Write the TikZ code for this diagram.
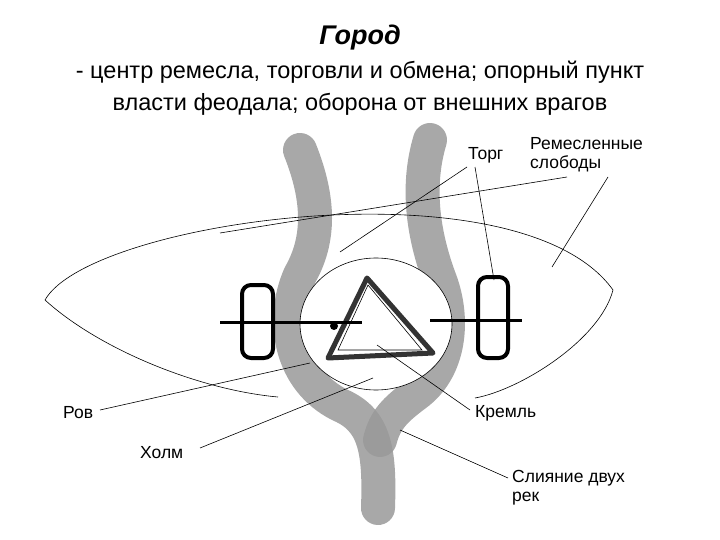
\documentclass[tikz,border=0pt]{standalone}
\usepackage{fontspec}
\setmainfont{Liberation Sans}
\begin{document}
\begin{tikzpicture}[x=1pt,y=-1pt,
  thin line/.style={draw=black,line width=0.6pt},
  river/.style={draw=black!40,line width=34pt,line cap=round,line join=round,opacity=0.85},
  lbl/.style={font=\fontsize{17.5}{19}\selectfont,inner sep=0pt,anchor=west,align=left},
  wall/.style={draw=black,line width=4pt,rounded corners=9pt}]
\useasboundingbox (0,0) rectangle (720,540);
\node[font=\fontsize{27}{30}\selectfont\bfseries\itshape] (title) at (360,38) {Город};
\node[font=\fontsize{23.5}{32}\selectfont,align=center] (sub) at (360,88) {- центр ремесла, торговли и обмена; опорный пункт\\власти феодала; оборона от внешних врагов};
% rivers
\draw[river] (300,150) .. controls (320,200) and (320,240) .. (300,275) .. controls (280,320) and (290,380) .. (340,405) .. controls (375,420) and (380,450) .. (378,508);
\draw[river] (430,140) .. controls (415,190) and (425,240) .. (440,280) .. controls (455,320) and (450,370) .. (415,395) .. controls (395,410) and (385,420) .. (380,440);
% outer lens
\draw[thin line] (45,300) .. controls (90,220) and (520,160) .. (613,290) .. controls (600,340) and (520,390) .. (475,398);
\draw[thin line] (45,300) .. controls (100,350) and (200,390) .. (278,397);
% kremlin circle
\draw[thin line,fill=white] (376,324) ellipse [x radius=76,y radius=66];
% triangle
\draw[draw=black!80,line width=5pt,line join=round] (367,278) -- (433,353) -- (328,358) -- cycle;
\draw[thin line] (368,285) -- (422,350) -- (338,350) -- cycle;
\fill (334,326) circle (4);
% walls and roads
\draw[wall] (242,285) rectangle (273,358);
\draw[wall] (478,277) rectangle (508,358);
\draw[line width=3pt] (220,322) -- (362,322);
\draw[line width=3pt] (430,320) -- (522,320);
% labels
\node[lbl] (torg) at (468,155) {Торг};
\node[lbl] (slob) at (530,155) {Ремесленные\\слободы};
\node[lbl] (krem) at (475,413) {Кремль};
\node[lbl] (sliy) at (512,488) {Слияние двух\\рек};
\node[lbl] (rov) at (63,413) {Ров};
\node[lbl] (holm) at (140,453) {Холм};
\coordinate (t1) at (340,252); \coordinate (t2) at (494,280);
\coordinate (s1) at (220,233); \coordinate (s2) at (552,267);
\coordinate (k1) at (377,345); \coordinate (c1) at (400,430);
\coordinate (r1) at (310,363); \coordinate (h1) at (373,378);
\coordinate (ta) at (467,167); \coordinate (tb) at (475,167);
\coordinate (sa) at (567,177); \coordinate (sb) at (608,177);
\coordinate (ka) at (470,410); \coordinate (ca) at (508,478);
\coordinate (ra) at (100,410); \coordinate (ha) at (200,448);
\draw[thin line] (ta) -- (t1);
\draw[thin line] (tb) -- (t2);
\draw[thin line] (sa) -- (s1);
\draw[thin line] (sb) -- (s2);
\draw[thin line] (ka) -- (k1);
\draw[thin line] (ca) -- (c1);
\draw[thin line] (ra) -- (r1);
\draw[thin line] (ha) -- (h1);
\end{tikzpicture}
\end{document}
